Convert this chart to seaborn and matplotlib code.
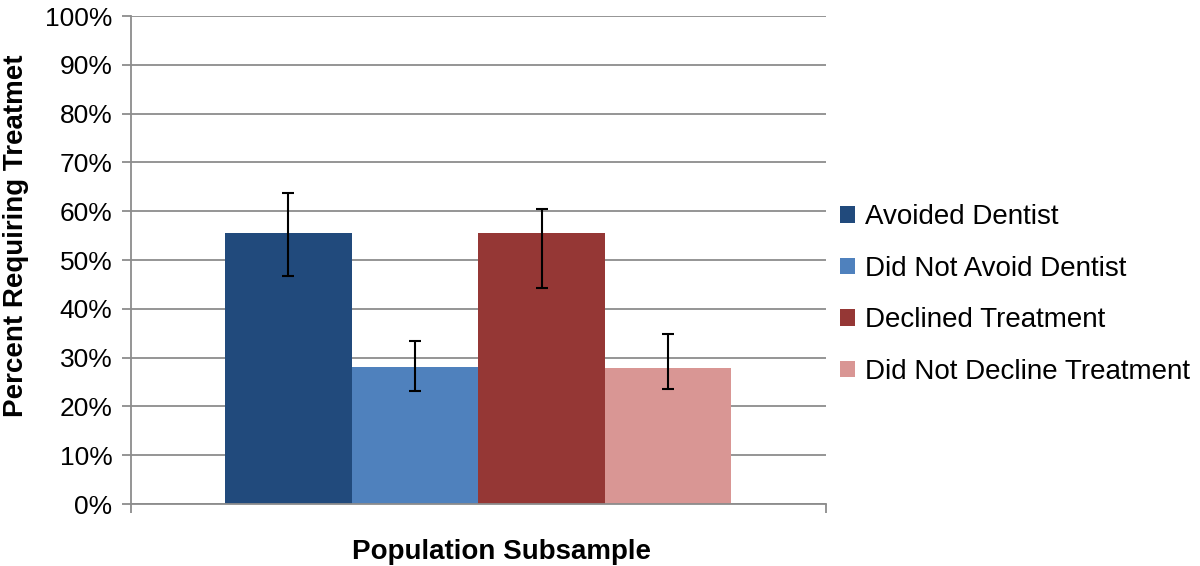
import numpy as np
import pandas as pd
import seaborn as sns
import matplotlib.pyplot as plt

# values (percent)
series = ['Avoided Dentist', 'Did Not Avoid Dentist', 'Declined Treatment', 'Did Not Decline Treatment']
values = [55.5, 28.1, 55.5, 27.9]
err_low = [46.7, 23.1, 44.3, 23.6]
err_high = [63.7, 33.5, 60.4, 34.8]
colors = ['#214A7C', '#4F81BD', '#953735', '#D99694']
yticks = [0, 10, 20, 30, 40, 50, 60, 70, 80, 90, 100]

sns.set_style('white')
plt.rcParams['font.family'] = ['Liberation Sans', 'DejaVu Sans']
plt.rcParams['text.color'] = 'black'

df = pd.DataFrame({'group': ['Population Subsample'] * 4, 'series': series, 'value': values})

fig = plt.figure(figsize=(12, 5.66), dpi=100)
ax = fig.add_axes([0.1092, 0.1095, 0.5788, 0.8622])

sns.barplot(data=df, x='group', y='value', hue='series', hue_order=series,
            palette=colors, width=0.729, gap=0, errorbar=None,
            saturation=1, linewidth=0, ax=ax, zorder=2)

# asymmetric error bars placed on the bars seaborn drew
bars = [p for p in ax.patches if p.get_height() > 0][:4]
for b, v, lo, hi in zip(bars, values, err_low, err_high):
    xc = b.get_x() + b.get_width() / 2
    ax.errorbar(xc, v, yerr=[[v - lo], [hi - v]], fmt='none', ecolor='black',
                elinewidth=1.5, capsize=4.5, capthick=1.5, zorder=3)

ax.set_ylim(0, 100)
ax.set_xlim(-0.5, 0.5)
ax.set_yticks(yticks)
ax.set_yticklabels([f'{t}%' for t in yticks], fontsize=19, color='black')
ax.set_xticks([-0.5, 0.5])
ax.set_xticklabels(['', ''])
ax.yaxis.grid(True, color='#8C8C8C', linewidth=1.3, zorder=0)
ax.set_axisbelow(True)
ax.tick_params(axis='both', direction='out', length=6.5, width=1.3, color='#8C8C8C',
               left=True, bottom=True, pad=7)

for side in ['top', 'right']:
    ax.spines[side].set_visible(False)
for side in ['left', 'bottom']:
    ax.spines[side].set_color('#8C8C8C')
    ax.spines[side].set_linewidth(1.3)

ax.set_xlabel('Population Subsample', fontsize=20, fontweight='bold', color='black')
ax.set_ylabel('Percent Requiring Treatmet', fontsize=20, fontweight='bold', color='black')
ax.xaxis.set_label_coords(0.533, -0.071)
ax.yaxis.set_label_coords(-0.147, 0.55)

handles, labels = ax.get_legend_handles_labels()
ax.legend(handles, labels, loc='center left', bbox_to_anchor=(1.0206, 0.429),
          frameon=False, fontsize=20, handlelength=0.54, handleheight=0.54,
          handletextpad=0.36, labelspacing=0.92, borderaxespad=0, borderpad=0)

fig.savefig('out.png', dpi=100)
